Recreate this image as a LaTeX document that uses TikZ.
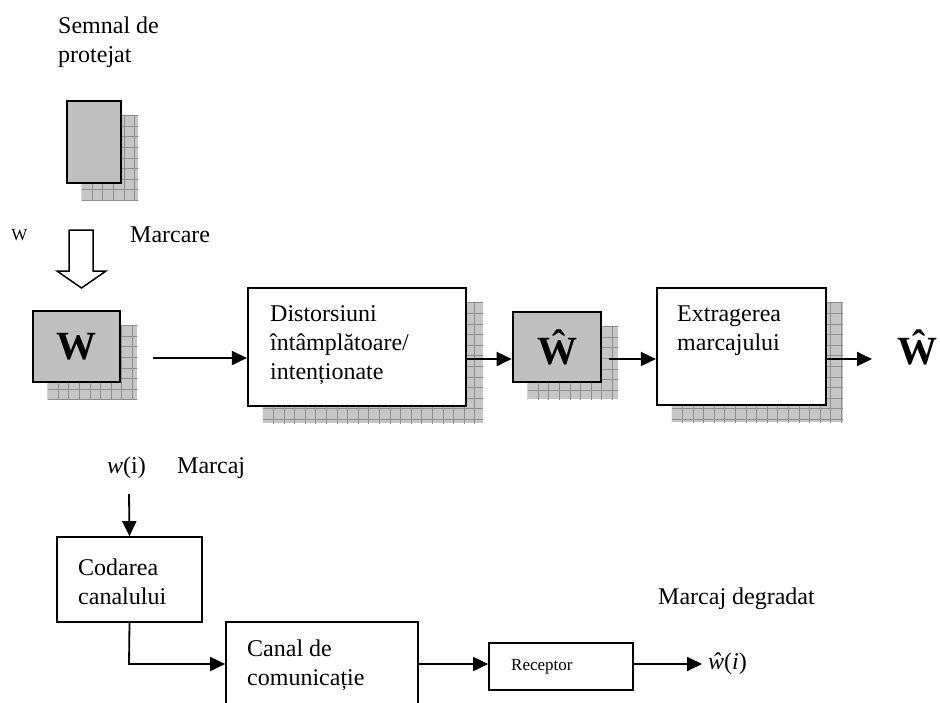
\documentclass[tikz,border=0pt]{standalone}
\usepackage{fontspec}
\setmainfont{Liberation Serif}
\usetikzlibrary{arrows.meta,calc,backgrounds}

\definecolor{boxgray}{HTML}{C0C0C0}
\definecolor{shadefill}{HTML}{C6C6C6}
\definecolor{shadegrid}{HTML}{8E8E8E}

\tikzset{
  txt/.style={inner sep=0pt, anchor=west, align=left,
    font=\fontsize{24}{29}\selectfont},
  smalltxt/.style={inner sep=0pt, font=\fontsize{17}{20}\selectfont},
  bigw/.style={inner sep=0pt, font=\fontsize{40}{44}\selectfont\bfseries},
  graybox/.style={draw, line width=2.6pt, fill=boxgray, inner sep=0pt},
  whitebox/.style={draw, line width=2.2pt, fill=white, inner sep=0pt},
  plainbox/.style={draw, line width=1.7pt, fill=white, inner sep=0pt},
  conn/.style={line width=1.8pt, -{Triangle[length=15pt,width=14pt]}},
}

% drop shadow with a light grid texture behind a box
\newcommand{\gridshadow}[1]{%
  \begin{scope}
    \path ($(#1.north west)+(16,16)$) coordinate (#1-sa)
          ($(#1.south east)+(16,16)$) coordinate (#1-sb);
    \fill[shadefill] (#1-sa) rectangle (#1-sb);
    \clip (#1-sa) rectangle (#1-sb);
    \begin{scope}[shift={(#1-sa)}]
      \draw[shadegrid, line width=0.9pt, step=10.6pt] (-1,300) grid (400,-1);
    \end{scope}
  \end{scope}}

\begin{document}
\begin{tikzpicture}[x=1pt, y=-1pt]
  \useasboundingbox (0,0) rectangle (940,702);
  \clip (0,0) rectangle (940,702);

  % upper chain: boxes
  \node[graybox, minimum width=54pt, minimum height=82pt] (sig) at (94,142) {};
  \node[graybox, minimum width=87pt, minimum height=71pt] (wbox) at (76.5,346.5) {};
  \node[whitebox, minimum width=218pt, minimum height=118pt] (dist) at (357,347) {};
  \node[graybox, minimum width=88pt, minimum height=70pt] (what) at (557,347) {};
  \node[whitebox, minimum width=169pt, minimum height=117pt] (extr) at (741.5,346.5) {};

  \begin{scope}[on background layer]
    \gridshadow{sig}
    \gridshadow{wbox}
    \gridshadow{dist}
    \gridshadow{what}
    \gridshadow{extr}
  \end{scope}

  % labels of the upper chain
  \node[txt] (semnal) at (58,42) {Semnal de\\protejat};
  \node[smalltxt] (wlbl) at (19.5,235) {W};
  \node[txt] (marcare) at (130,235) {Marcare};
  \node[bigw] (wsym) at (wbox.center) {W};
  \node[txt] (disttxt) at (270,345) {Distorsiuni\\întâmplătoare/\\intenționate};
  \node[bigw] (whatsym) at (what.center) {Ŵ};
  \node[txt] (extrtxt) at (677,331) {Extragerea\\marcajului};
  \node[bigw] (wout) at (917,347) {Ŵ};

  % hollow "Marcare" arrow
  \draw[line width=1.5pt, fill=white, line join=miter]
    (69,230) -- (69,271) -- (57,271) -- (81.5,288) -- (106,271) -- (93,271) -- (93,230) -- cycle;

  % upper chain: connectors
  \coordinate (wstart) at (153,358);
  \coordinate (dstart) at (466,359);
  \coordinate (hstart) at (609,359);
  \coordinate (estart) at (826,359);
  \coordinate (eend) at (872,359);
  \draw[conn] (wstart) -- (dist.west |- wstart);
  \draw[conn] (dstart) -- (what.west |- dstart);
  \draw[conn] (hstart) -- (extr.west |- hstart);
  \draw[conn] (estart) -- (eend);

  % lower chain: boxes
  \node[plainbox, minimum width=145pt, minimum height=85pt] (cod) at (129.5,579.5) {};
  \node[plainbox, minimum width=192pt, minimum height=120pt] (canal) at (322,682) {};
  \node[plainbox, minimum width=144pt, minimum height=47pt] (recv) at (561,666.5) {};

  % lower chain: labels
  \node[txt] (wi) at (107,468) {\textit{w}(i)};
  \node[txt] (marcaj) at (177,468) {Marcaj};
  \node[txt] (codtxt) at (78,582) {Codarea\\canalului};
  \node[txt] (canaltxt) at (247,665) {Canal de\\comunicație};
  \node[smalltxt, anchor=west] (recvtxt) at (511,666.5) {Receptor};
  \node[txt] (degr) at (658,599) {Marcaj degradat};
  \node[txt] (whati) at (708,664) {\textit{ŵ}(\textit{i})};

  % lower chain: connectors
  \coordinate (wistart) at (129,494);
  \coordinate (ccorner) at (129,664);
  \coordinate (rstart) at (633,664);
  \coordinate (rend) at (702,664);
  \draw[conn] (wistart) -- (cod.north);
  \draw[conn] (cod.south) -- (ccorner) -- (canal.west |- ccorner);
  \draw[conn] (canal.east |- ccorner) -- (recv.west |- ccorner);
  \draw[conn] (recv.east |- rstart) -- (rend);
\end{tikzpicture}
\end{document}
